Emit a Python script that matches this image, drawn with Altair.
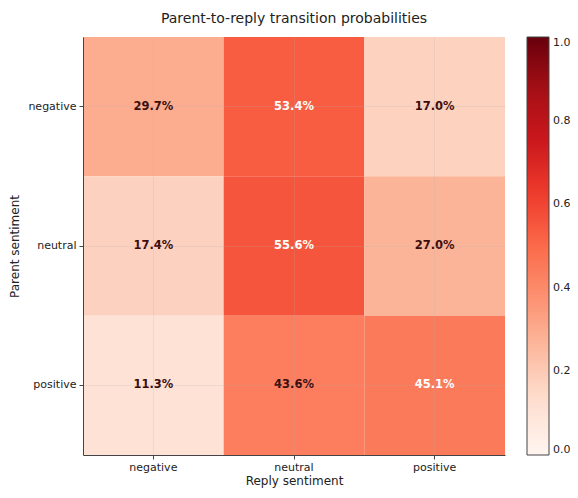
import altair as alt
import pandas as pd

# ---- data ----
parents = ["negative", "neutral", "positive"]
replies = ["negative", "neutral", "positive"]
negative_row = [0.297, 0.534, 0.170]
neutral_row = [0.174, 0.556, 0.270]
positive_row = [0.113, 0.436, 0.451]
colorbar_ticks = [0.0, 0.2, 0.4, 0.6, 0.8, 1.0]

# matplotlib "Reds" colormap stops
reds = ["#fff5f0", "#fee0d2", "#fcbba1", "#fc9272", "#fb6a4a",
        "#ef3b2c", "#cb181d", "#a50f15", "#67000d"]
reds_stops = [0.0, 0.125, 0.25, 0.375, 0.5, 0.625, 0.75, 0.875, 1.0]

rows = []
for parent, vals in zip(parents, [negative_row, neutral_row, positive_row]):
    for reply, v in zip(replies, vals):
        rows.append({"parent": parent, "reply": reply, "p": v})
df = pd.DataFrame(rows)

FONT = "DejaVu Sans"
PLOT_W = 422
PLOT_H = 418

axis_common = dict(
    labelFont=FONT, labelFontSize=11, labelColor="#222222",
    titleFont=FONT, titleFontSize=12, titleFontWeight="normal", titleColor="#222222",
    domainColor="#444444", domainWidth=1,
    tickColor="#444444", tickSize=4, tickWidth=1,
    bandPosition=0.5,
    grid=True, gridColor="#b0b0b0", gridOpacity=0.25, gridWidth=0.8,
    zindex=1,
)

x = alt.X("reply:N", sort=replies, title="Reply sentiment",
          scale=alt.Scale(paddingInner=0, paddingOuter=0),
          axis=alt.Axis(labelAngle=0, labelPadding=2, titlePadding=3, **axis_common))
y = alt.Y("parent:N", sort=parents, title="Parent sentiment",
          scale=alt.Scale(paddingInner=0, paddingOuter=0),
          axis=alt.Axis(labelPadding=3, titlePadding=6, **axis_common))

color = alt.Color(
    "p:Q",
    scale=alt.Scale(domain=reds_stops, range=reds, interpolate="rgb"),
    legend=alt.Legend(
        title=None, orient="right", offset=22, padding=0,
        gradientLength=PLOT_H, gradientThickness=22,
        gradientStrokeColor="#444444", gradientStrokeWidth=1,
        values=colorbar_ticks, format=".1f",
        labelFont=FONT, labelFontSize=11, labelColor="#222222",
        labelOffset=4, labelOverlap=False,
    ),
)

base = alt.Chart(df)

cells = base.mark_rect().encode(x=x, y=y, color=color)

labels = base.mark_text(font=FONT, fontSize=11.5, fontWeight="bold").encode(
    x=alt.X("reply:N", sort=replies),
    y=alt.Y("parent:N", sort=parents),
    text=alt.Text("p:Q", format=".1%"),
    color=alt.condition("datum.p > 0.44", alt.value("#ffffff"), alt.value("#3a0c0c")),
)

chart = (
    alt.layer(cells, labels)
    .properties(
        width=PLOT_W,
        height=PLOT_H,
        title=alt.TitleParams(
            "Parent-to-reply transition probabilities",
            font=FONT, fontSize=14, fontWeight="normal", color="#222222",
            anchor="middle", baseline="alphabetic", offset=0, frame="group",
        ),
        autosize=alt.AutoSizeParams(type="none"),
        padding={"left": 75, "top": 29, "right": 562 - 75 - PLOT_W,
                 "bottom": 482 - 29 - PLOT_H},
    )
    .configure_view(stroke=None)
)

chart.save("out.html", embed_options={"renderer": "svg", "actions": False})
